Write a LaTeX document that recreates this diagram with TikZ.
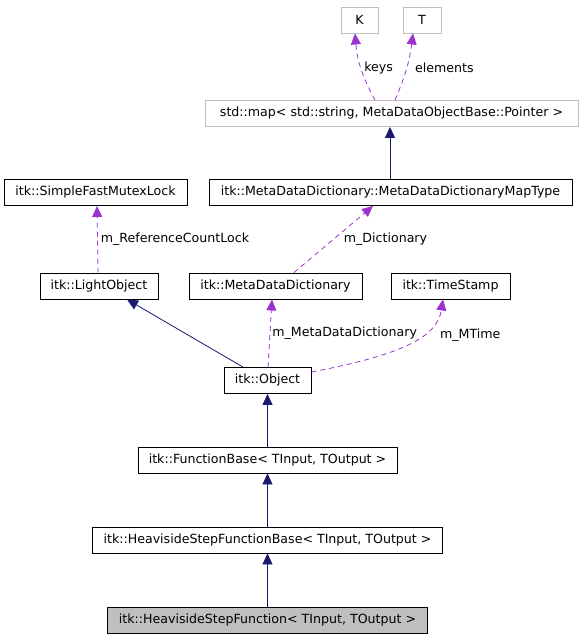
\documentclass[tikz,border=0pt]{standalone}
\usepackage{fontspec}
\setmainfont{DejaVu Sans}
\usetikzlibrary{arrows.meta}
\definecolor{navy}{HTML}{191970}
\definecolor{orchid}{HTML}{9A32CD}
\definecolor{boxgray}{HTML}{BFBFBF}

\begin{document}
\begin{tikzpicture}[x=1pt, y=-1pt,
  font=\fontsize{12.6}{15}\selectfont,
  cls/.style={draw=black, line width=0.9pt, fill=white, inner sep=0pt,
    minimum height=26pt, minimum width=#1},
  ext/.style={cls=#1, draw=boxgray},
  cur/.style={cls=#1, fill=boxgray},
  inh/.style={-{Triangle[length=11pt, width=10pt]}, draw=navy, line width=0.8pt},
  use/.style={-{Triangle[length=11pt, width=10pt]}, draw=orchid, line width=0.8pt,
    dash pattern=on 5pt off 4pt},
  lab/.style={inner sep=1pt, anchor=west},
]
\useasboundingbox (0,0) rectangle (581,640);
% template arguments
\node[ext=37] (K) at (359.5,20) {K};
\node[ext=38] (T) at (422,20) {T};
\node[ext=373] (map) at (391.5,113.5) {std::map< std::string, MetaDataObjectBase::Pointer >};
% members
\node[cls=183] (mutex) at (95.5,192.5) {itk::SimpleFastMutexLock};
\node[cls=363] (maptype) at (390.5,192.5) {itk::MetaDataDictionary::MetaDataDictionaryMapType};
\node[cls=118] (light) at (99,286) {itk::LightObject};
\node[cls=173] (dict) at (275.5,286) {itk::MetaDataDictionary};
\node[cls=119] (stamp) at (450.5,286) {itk::TimeStamp};
% base classes
\node[cls=87] (object) at (267.5,380.5) {itk::Object};
\node[cls=259] (fbase) at (267.5,460) {itk::FunctionBase< TInput, TOutput >};
\node[cls=350] (hbase) at (267.5,540) {itk::HeavisideStepFunctionBase< TInput, TOutput >};
\node[cur=320] (hsf) at (267.5,620) {itk::HeavisideStepFunction< TInput, TOutput >};
% edges
\draw[use] ([xshift=-16.5pt]map.north) to[bend left=12] node[lab, pos=0.5, xshift=2pt] {keys} ([xshift=-4.5pt]K.south);
\draw[use] ([xshift=3.5pt]map.north) to[bend right=8] node[lab, pos=0.5, xshift=7pt] {elements} ([xshift=-9pt]T.south);
\draw[inh] ([xshift=-0.5pt]maptype.north) -- ([xshift=-1.5pt]map.south);
\draw[use] ([xshift=-1pt]light.north) -- node[lab, pos=0.5, xshift=2pt] {m\_ReferenceCountLock} ([xshift=1.5pt]mutex.south);
\draw[use] ([xshift=18.5pt]dict.north) -- node[lab, pos=0.5, xshift=9pt] {m\_Dictionary} ([xshift=-17.5pt]maptype.south);
\draw[inh] ([xshift=-24.5pt]object.north) -- ([xshift=28pt]light.south);
\draw[use] ([xshift=0.5pt]object.north) -- node[lab, pos=0.5, xshift=1pt] {m\_MetaDataDictionary} ([xshift=-3.5pt]dict.south);
\draw[use] ([yshift=-5pt]object.north east) .. controls (400,355) and (437,338) .. node[lab, pos=0.7, xshift=10pt, yshift=-6pt] {m\_MTime} ([xshift=-7.5pt]stamp.south);
\draw[inh] (fbase.north) -- (object.south);
\draw[inh] (hbase.north) -- (fbase.south);
\draw[inh] (hsf.north) -- (hbase.south);
\end{tikzpicture}
\end{document}
